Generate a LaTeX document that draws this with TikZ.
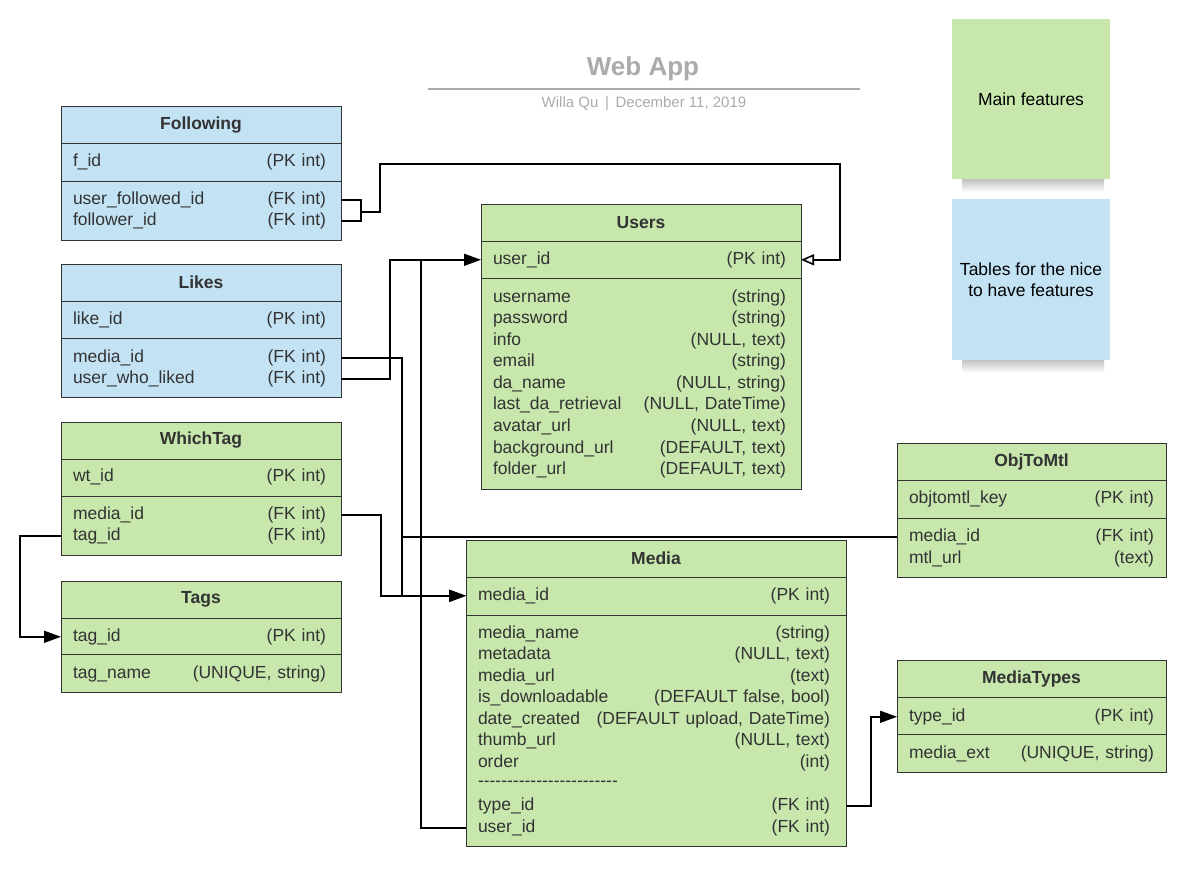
\documentclass[tikz,border=0pt]{standalone}
\usepackage{fontspec}
\setmainfont{Liberation Sans}[Ligatures=TeXOff]
\usetikzlibrary{arrows.meta}
\definecolor{dk}{HTML}{333333}
\definecolor{blu}{HTML}{C3E3F5}
\definecolor{grn}{HTML}{C7E7AD}
\definecolor{ttl}{HTML}{ABABAB}
\newcommand\fillgap{\hskip 0pt plus 1filll}

\begin{document}
\begin{tikzpicture}[x=1pt, y=-1pt,
    every node/.style={font=\fontsize{17.5}{21.5}\selectfont, text=dk, outer sep=0},
    hdr/.style={draw=dk, line width=0.9pt, minimum height=37, inner sep=0, font=\fontsize{17.5}{21.5}\selectfont\bfseries},
    sec/.style={draw=dk, line width=0.9pt, anchor=north, inner sep=0},
    fld/.style={anchor=west, text width=#1, align=left, inner sep=0, yshift=-1.8pt},
    conn/.style={line width=1.6pt, black},
    tip/.style={conn, -{Triangle[length=17pt, width=12pt]}},
    note/.style={minimum width=158, minimum height=160, inner sep=0, text=black, align=center}
]
\useasboundingbox (0,0) rectangle (1183,896);

% title
\node[font=\fontsize{26}{30}\selectfont\bfseries, text=ttl] (title) at (643,69) {Web App};
\draw[ttl, line width=2pt] (428,89) -- (860,89);
\node[font=\fontsize{15}{18}\selectfont, text=ttl] (sub) at (644,104) {Willa Qu \,|\, December 11, 2019};

% legend notes
\shade[top color=black!25, bottom color=white] (962,179) rectangle (1104,192);
\shade[top color=black!25, bottom color=white] (962,359) rectangle (1104,373);
\node[note, fill=grn] (nMain) at (1031,99) {Main features};
\node[note, fill=blu] (nNice) at (1031,279.5) {Tables for the nice\\to have features};

% Following
\node[hdr, fill=blu, minimum width=280] (fol) at (201,125) {Following};
\node[sec, fill=blu, minimum width=280, minimum height=38] (folA) at (fol.south) {};
\node[sec, fill=blu, minimum width=280, minimum height=59] (folB) at (folA.south) {};
\node[fld=253] (folFid) at (73,160) {f\_id\fillgap(PK int)};
\node[fld=253] (folUfid) at (73,198) {user\_followed\_id\fillgap(FK int)};
\node[fld=253] (folFwr) at (73,219) {follower\_id\fillgap(FK int)};

% Likes
\node[hdr, fill=blu, minimum width=280] (lik) at (201,282.5) {Likes};
\node[sec, fill=blu, minimum width=280, minimum height=37] (likA) at (lik.south) {};
\node[sec, fill=blu, minimum width=280, minimum height=59] (likB) at (likA.south) {};
\node[fld=253] (likLid) at (73,318) {like\_id\fillgap(PK int)};
\node[fld=253] (likMid) at (73,356) {media\_id\fillgap(FK int)};
\node[fld=253] (likUwl) at (73,377) {user\_who\_liked\fillgap(FK int)};

% WhichTag
\node[hdr, fill=grn, minimum width=280] (wt) at (201,440.5) {WhichTag};
\node[sec, fill=grn, minimum width=280, minimum height=37] (wtA) at (wt.south) {};
\node[sec, fill=grn, minimum width=280, minimum height=59] (wtB) at (wtA.south) {};
\node[fld=253] (wtWid) at (73,475) {wt\_id\fillgap(PK int)};
\node[fld=253] (wtMid) at (73,513) {media\_id\fillgap(FK int)};
\node[fld=253] (wtTid) at (73,534) {tag\_id\fillgap(FK int)};

% Tags
\node[hdr, fill=grn, minimum width=280] (tag) at (201,599.5) {Tags};
\node[sec, fill=grn, minimum width=280, minimum height=36] (tagA) at (tag.south) {};
\node[sec, fill=grn, minimum width=280, minimum height=38] (tagB) at (tagA.south) {};
\node[fld=253] (tagTid) at (73,635) {tag\_id\fillgap(PK int)};
\node[fld=253] (tagTn) at (73,672) {tag\_name\fillgap(UNIQUE, string)};

% Users
\node[hdr, fill=grn, minimum width=320] (usr) at (641,222.5) {Users};
\node[sec, fill=grn, minimum width=320, minimum height=37] (usrA) at (usr.south) {};
\node[sec, fill=grn, minimum width=320, minimum height=211] (usrB) at (usrA.south) {};
\node[fld=293] (usrUid) at (493,258) {user\_id\fillgap(PK int)};
\node[fld=293] (usrName) at (493,296) {username\fillgap(string)};
\node[fld=293] (usrPw) at (493,317) {password\fillgap(string)};
\node[fld=293] (usrInfo) at (493,339) {info\fillgap(NULL, text)};
\node[fld=293] (usrMail) at (493,360) {email\fillgap(string)};
\node[fld=293] (usrDa) at (493,382) {da\_name\fillgap(NULL, string)};
\node[fld=293] (usrLast) at (493,403) {last\_da\_retrieval\fillgap(NULL, DateTime)};
\node[fld=293] (usrAv) at (493,425) {avatar\_url\fillgap(NULL, text)};
\node[fld=293] (usrBg) at (493,447) {background\_url\fillgap(DEFAULT, text)};
\node[fld=293] (usrFo) at (493,468) {folder\_url\fillgap(DEFAULT, text)};

% ObjToMtl
\node[hdr, fill=grn, minimum width=269] (obj) at (1031.5,462) {ObjToMtl};
\node[sec, fill=grn, minimum width=269, minimum height=38] (objA) at (obj.south) {};
\node[sec, fill=grn, minimum width=269, minimum height=59] (objB) at (objA.south) {};
\node[fld=245] (objKey) at (909,497) {objtomtl\_key\fillgap(PK int)};
\node[fld=245] (objMid) at (909,535) {media\_id\fillgap(FK int)};
\node[fld=245] (objUrl) at (909,557) {mtl\_url\fillgap(text)};

% Media
\node[hdr, fill=grn, minimum width=380] (med) at (656,558.5) {Media};
\node[sec, fill=grn, minimum width=380, minimum height=38] (medA) at (med.south) {};
\node[sec, fill=grn, minimum width=380, minimum height=231] (medB) at (medA.south) {};
\node[fld=352] (medMid) at (478,594) {media\_id\fillgap(PK int)};
\node[fld=352] (medName) at (478,632) {media\_name\fillgap(string)};
\node[fld=352] (medMeta) at (478,653) {metadata\fillgap(NULL, text)};
\node[fld=352] (medUrl) at (478,675) {media\_url\fillgap(text)};
\node[fld=352] (medDl) at (478,696) {is\_downloadable\fillgap(DEFAULT false, bool)};
\node[fld=352] (medDate) at (478,718) {date\_created\fillgap(DEFAULT upload, DateTime)};
\node[fld=352] (medThumb) at (478,739) {thumb\_url\fillgap(NULL, text)};
\node[fld=352] (medOrd) at (478,761) {order\fillgap(int)};
\node[fld=352] (medSep) at (478,782) {------------------------};
\node[fld=352] (medTid) at (478,804) {type\_id\fillgap(FK int)};
\node[fld=352] (medUid) at (478,826) {user\_id\fillgap(FK int)};

% MediaTypes
\node[hdr, fill=grn, minimum width=269] (mt) at (1031.5,679) {MediaTypes};
\node[sec, fill=grn, minimum width=269, minimum height=37] (mtA) at (mt.south) {};
\node[sec, fill=grn, minimum width=269, minimum height=38] (mtB) at (mtA.south) {};
\node[fld=245] (mtTid) at (909,715) {type\_id\fillgap(PK int)};
\node[fld=245] (mtExt) at (909,752) {media\_ext\fillgap(UNIQUE, string)};

% relations
\coordinate (jf) at (361,212);
\draw[conn] (folUfid -| fol.east) -| (jf) |- (folFwr -| fol.east);
\draw[conn, -{Triangle[open, length=13pt, width=11pt]}] (jf) -- ++(19,0) -- ++(0,-48) -| (840,0 |- usrUid) -- (usrUid -| usr.east);
\draw[tip] (likUwl -| lik.east) -| (390,0 |- usrUid) -- (usrUid -| usr.west);
\draw[conn] (medUid -| med.west) -| (421,0 |- usrUid);
\draw[tip] (likMid -| lik.east) -| (402,0 |- medMid) -- (medMid -| med.west);
\draw[tip] (wtMid -| wt.east) -| (381,0 |- medMid) -- (medMid -| med.west);
\draw[conn] (objMid -| obj.west) -- (402,0 |- objMid);
\draw[tip] (wtTid -| wt.west) -| (20,0 |- tagTid) -- (tagTid -| tag.west);
\draw[tip] (medTid -| med.east) -| (871,0 |- mtTid) -- (mtTid -| mt.west);
\end{tikzpicture}
\end{document}
